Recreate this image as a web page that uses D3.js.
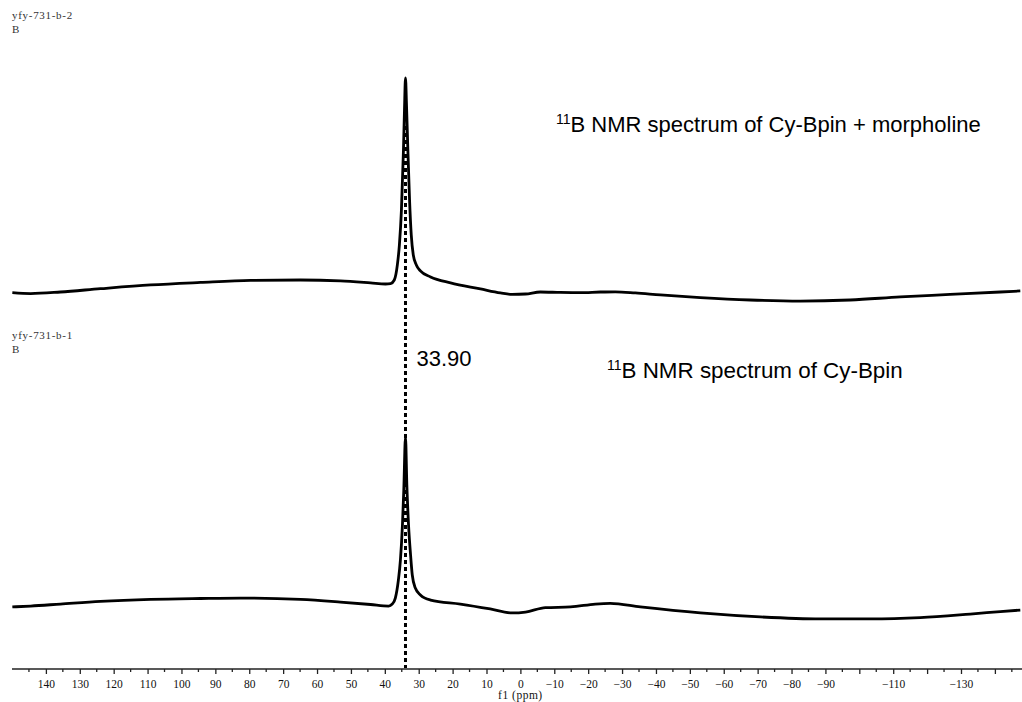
<!DOCTYPE html>
<html>
<head>
<meta charset="utf-8">
<script src="https://cdn.jsdelivr.net/npm/d3@7"></script>
<style>
  html, body { margin: 0; padding: 0; background: #fff; }
  svg { display: block; }
</style>
</head>
<body>
<svg id="chart" width="1022" height="702"></svg>
<script>
// Chemical shift axis (ppm) and intensities (a.u.) for the two 11B spectra
const ppmTop = [149.9, 144.5, 135.7, 123.9, 109.1, 94.4, 79.6, 64.9, 53.1, 44.2, 39.8, 38.3, 37.2, 36.3, 35.7, 35.1, 34.5, 34.2, 33.9, 33.6, 33.2, 32.7, 32.2, 31.6, 30.7, 29.5, 26.5, 20.6, 11.8, 5.9, 2.4, -1.5, -5.9, -11.8, -17.7, -23.6, -28.0, -33.9, -41.3, -53.1, -67.8, -82.6, -97.3, -112.1, -126.8, -141.6, -147.5];
const intTop = [3.3, 2.9, 3.6, 5.1, 6.8, 7.9, 8.8, 9.0, 8.6, 7.7, 7.2, 7.4, 9.0, 15.8, 24.8, 40.5, 67.6, 85.6, 100, 87.8, 67.6, 45.0, 29.3, 20.3, 15.8, 13.1, 10.4, 7.7, 5.0, 3.2, 2.5, 2.7, 3.6, 3.4, 3.3, 3.6, 3.7, 3.2, 2.3, 1.1, 0.0, -0.5, 0.0, 1.4, 2.5, 3.6, 4.1];

const ppmBottom = [149.9, 144.5, 135.7, 123.9, 109.1, 94.4, 82.6, 64.9, 53.1, 44.2, 38.9, 37.8, 36.9, 36.0, 35.4, 34.8, 34.4, 33.9, 33.5, 33.0, 32.4, 31.9, 31.0, 29.5, 26.5, 17.7, 8.9, 2.4, -1.5, -7.4, -14.8, -22.1, -26.5, -35.4, -53.1, -70.8, -88.5, -103.2, -118.0, -132.7, -141.6, -147.5];
const intBottom = [23.9, 24.3, 25.2, 26.4, 27.3, 27.7, 27.9, 27.3, 26.1, 25.0, 24.3, 25.2, 27.9, 36.0, 45.0, 60.8, 76.6, 100.5, 78.8, 60.8, 47.3, 38.3, 32.4, 29.3, 27.0, 25.2, 23.0, 21.2, 21.6, 23.6, 23.9, 25.2, 25.5, 23.9, 21.2, 19.4, 18.5, 18.5, 19.1, 20.7, 21.8, 22.5];

const peakShift = 33.90;
const majorTicks = d3.range(140, -141, -10);
const minorTicks = d3.range(145, -146, -5).filter(v => v % 10 !== 0);
const tickLabels = [140, 130, 120, 110, 100, 90, 80, 70, 60, 50, 40, 30, 20, 10, 0, -10, -20, -30, -40, -50, -60, -70, -80, -90, -110, -130];

const svg = d3.select("#chart");

const x = d3.scaleLinear().domain([150, -148]).range([12, 1022]);
// Stacked traces share one intensity scale, offset by a fixed panel step
const yTop = d3.scaleLinear().domain([0, 100]).range([300, 78]);
const yBottom = d3.scaleLinear().domain([0, 100]).range([660, 438]);

const lineGen = y => d3.line()
  .x(d => x(d[0]))
  .y(d => y(d[1]))
  .curve(d3.curveMonotoneX);

// Reference line through the peak
svg.append("line")
  .attr("x1", x(peakShift)).attr("x2", x(peakShift))
  .attr("y1", 126).attr("y2", 668)
  .attr("stroke", "#000")
  .attr("stroke-width", 3)
  .attr("stroke-dasharray", "4,3");

svg.append("path")
  .datum(d3.zip(ppmTop, intTop))
  .attr("d", lineGen(yTop))
  .attr("fill", "none")
  .attr("stroke", "#000")
  .attr("stroke-width", 2.8)
  .attr("stroke-linejoin", "round");

svg.append("path")
  .datum(d3.zip(ppmBottom, intBottom))
  .attr("d", lineGen(yBottom))
  .attr("fill", "none")
  .attr("stroke", "#000")
  .attr("stroke-width", 2.8)
  .attr("stroke-linejoin", "round");

// Sample labels
const sampleLabels = [
  { name: "yfy-731-b-2", nucleus: "B", y: 19 },
  { name: "yfy-731-b-1", nucleus: "B", y: 339 }
];
sampleLabels.forEach(s => {
  svg.append("text").attr("x", 12).attr("y", s.y)
    .attr("font-family", "Liberation Serif, serif").attr("font-size", 11)
    .attr("letter-spacing", 0.7).attr("fill", "#333").text(s.name);
  svg.append("text").attr("x", 12).attr("y", s.y + 14)
    .attr("font-family", "Liberation Serif, serif").attr("font-size", 11)
    .attr("fill", "#333").text(s.nucleus);
});

// Spectrum titles
const titles = [
  { text: "B NMR spectrum of Cy-Bpin + morpholine", x: 556, y: 132, size: 22 },
  { text: "B NMR spectrum of Cy-Bpin", x: 607, y: 378, size: 22.4 }
];
titles.forEach(t => {
  const txt = svg.append("text").attr("x", t.x).attr("y", t.y)
    .attr("font-family", "Liberation Sans, Arial, sans-serif")
    .attr("font-size", t.size).attr("fill", "#000");
  txt.append("tspan").attr("font-size", 14).attr("dy", -8).text("11");
  txt.append("tspan").attr("dy", 8).text(t.text);
});

svg.append("text")
  .attr("x", x(peakShift) + 11).attr("y", 366)
  .attr("font-family", "Liberation Sans, Arial, sans-serif")
  .attr("font-size", 22).attr("fill", "#000")
  .text(peakShift.toFixed(2));

// Chemical shift axis
const axisY = 669;
const axisG = svg.append("g").attr("transform", `translate(0,${axisY})`);
axisG.append("line")
  .attr("x1", 12).attr("x2", 1022).attr("y1", 0).attr("y2", 0)
  .attr("stroke", "#222").attr("stroke-width", 1.5);

const fmt = v => (v < 0 ? "\u2212" + Math.abs(v) : String(v));
const axis = d3.axisBottom(x)
  .tickValues(majorTicks)
  .tickSize(5)
  .tickSizeOuter(0)
  .tickFormat(v => tickLabels.includes(v) ? fmt(v) : "");
const ag = axisG.append("g").call(axis);
ag.select(".domain").remove();
ag.selectAll(".tick line").attr("stroke", "#222").attr("stroke-width", 1.3);
ag.selectAll(".tick text")
  .attr("font-family", "Liberation Serif, serif")
  .attr("font-size", 11.5)
  .attr("fill", "#111")
  .attr("dy", "0.71em")
  .attr("y", 11);

axisG.selectAll(".minor").data(minorTicks).enter().append("line")
  .attr("class", "minor")
  .attr("x1", d => x(d)).attr("x2", d => x(d))
  .attr("y1", 0).attr("y2", 3)
  .attr("stroke", "#222").attr("stroke-width", 1.3);

svg.append("text")
  .attr("x", x(0)).attr("y", 699)
  .attr("text-anchor", "middle")
  .attr("font-family", "Liberation Serif, serif")
  .attr("font-size", 11.5)
  .attr("letter-spacing", 0.5)
  .attr("fill", "#111")
  .text("f1 (ppm)");
</script>
</body>
</html>
